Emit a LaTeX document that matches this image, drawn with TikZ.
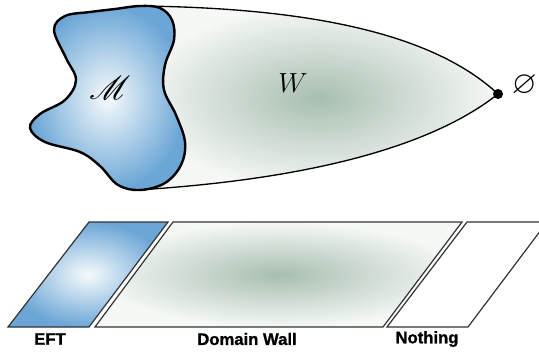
\documentclass[tikz,border=0pt]{standalone}
\usepackage{fontspec}
\usepackage{amssymb}
\usepackage{mathrsfs}
\newfontfamily\labelfont[BoldFeatures={FakeBold=1.2}]{Liberation Sans}
\definecolor{eftblue}{RGB}{108,166,214}
\definecolor{eftwhite}{RGB}{246,251,252}
\definecolor{wallgreen}{RGB}{168,190,176}
\definecolor{wallwhite}{RGB}{246,248,246}
\begin{document}
\begin{tikzpicture}[x=0.75pt, y=-0.75pt,
    band/.style={draw=black!80, line width=0.9pt},
    bandlabel/.style={font=\labelfont\bfseries\fontsize{12.5}{14}\selectfont}]
    \useasboundingbox (0,0) rectangle (539,351);

    % Domain wall region W ending in a point
    \shadedraw[inner color=wallgreen, outer color=wallwhite, line width=1pt]
        (140,6) .. controls (330,8) and (440,40) .. (498,94)
        .. controls (440,140) and (330,178) .. (137,190) -- cycle;
    \node[circle, fill=black, inner sep=0pt, minimum size=7.5pt] (tip) at (498,94) {};
    \node[inner sep=0pt, anchor=east] (nothing) at (537,85) {\fontsize{24}{28}\selectfont$\varnothing$};
    \node (wall) at (293,83) {\fontsize{21}{24}\selectfont$W$};

    % Manifold M
    \shadedraw[inner color=eftwhite, outer color=eftblue, line width=1.8pt]
        plot[smooth cycle, tension=0.6] coordinates {
        (54,30) (65,16) (90,12) (115,9) (140,6) (160,8) (172,20) (174,40)
        (165,65) (164,90) (176,115) (185,142) (181,165) (165,183) (140,190)
        (118,185) (100,166) (80,152) (45,142) (30,128) (40,114) (65,100)
        (76,80) (66,58)};
    \node (manifold) at (110,88) {\fontsize{24}{28}\selectfont$\mathscr{M}$};

    % Bands below
    \shadedraw[band, inner color=eftwhite, outer color=eftblue]
        (8,327) -- (89,327) -- (168,222) -- (89,222) -- cycle;
    \shadedraw[band, inner color=wallgreen, outer color=wallwhite]
        (95,327) -- (383,327) -- (462,222) -- (173,222) -- cycle;
    \draw[band, fill=white]
        (387,327) -- (468,327) -- (547,222) -- (467,222) -- cycle;

    \node[bandlabel] (eft) at (50,339) {EFT};
    \node[bandlabel] (dw) at (247,339) {Domain Wall};
    \node[bandlabel] (none) at (427,339) {Nothing};
\end{tikzpicture}
\end{document}
